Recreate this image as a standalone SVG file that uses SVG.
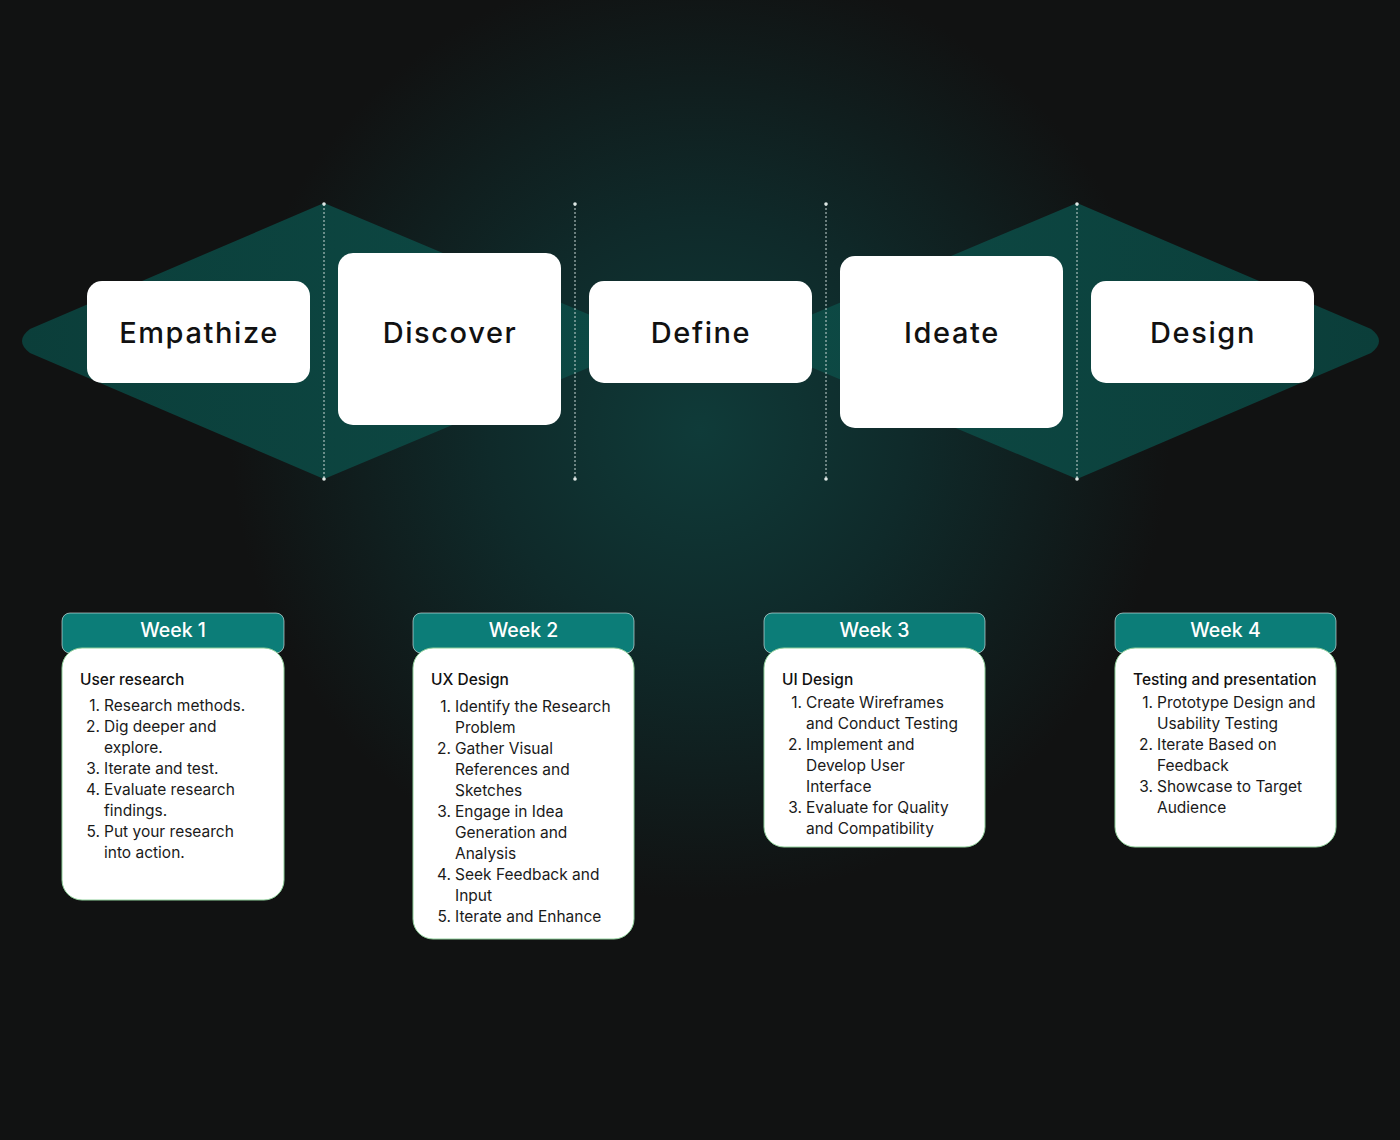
<svg xmlns="http://www.w3.org/2000/svg" width="1400" height="1140" viewBox="0 0 1400 1140">
  <defs>
    <radialGradient id="glow" cx="700" cy="430" r="470" gradientUnits="userSpaceOnUse">
      <stop offset="0" stop-color="#0f3b39"/>
      <stop offset="0.45" stop-color="#0f2a2a"/>
      <stop offset="1" stop-color="#111212"/>
    </radialGradient>
    <linearGradient id="dia" x1="0" y1="0" x2="1" y2="0">
      <stop offset="0" stop-color="#0b3e3a"/>
      <stop offset="1" stop-color="#0d4a45"/>
    </linearGradient>
    <linearGradient id="diaR" x1="1" y1="0" x2="0" y2="0">
      <stop offset="0" stop-color="#0b3e3a"/>
      <stop offset="1" stop-color="#0d4a45"/>
    </linearGradient>
    <style>
      .box { fill: #ffffff; }
      .stage { font-family: Inter, "Liberation Sans", sans-serif; font-size: 29px; font-weight: 500; fill: #111111; text-anchor: middle; letter-spacing: 1.6px; }
      .hdr { fill: #0c7d78; stroke: #e6f2f1; stroke-width: 0.6; }
      .card { fill: #ffffff; stroke: #8fcf9a; stroke-width: 1; }
      .wk { font-family: Inter, "Liberation Sans", sans-serif; font-size: 19.5px; font-weight: 500; fill: #ffffff; text-anchor: middle; }
      .ttl { font-family: Inter, "Liberation Sans", sans-serif; font-size: 15.5px; font-weight: 500; fill: #111111; }
      .li { font-family: Inter, "Liberation Sans", sans-serif; font-size: 15.5px; fill: #1a1a1a; }
      .num { font-family: Inter, "Liberation Sans", sans-serif; font-size: 15.5px; fill: #1a1a1a; text-anchor: end; }
      .vline { stroke: #c9d6d4; stroke-width: 1; stroke-dasharray: 2 2; }
      .dot { fill: #dfe8e6; }
    </style>
  </defs>

  <rect x="0" y="0" width="1400" height="1140" fill="#111212"/>
  <rect x="0" y="0" width="1400" height="1140" fill="url(#glow)"/>

  <g id="diamonds">
    <path d="M 324 203 L 652 341 L 324 479 L 30 353 Q 14 341 30 329 Z" fill="url(#dia)"/>
    <path d="M 1077 203 L 749 341 L 1077 479 L 1371 353 Q 1387 341 1371 329 Z" fill="url(#diaR)"/>
  </g>

  <g id="connectors">
    <line class="vline" x1="324" y1="204" x2="324" y2="478"/>
    <line class="vline" x1="575" y1="204" x2="575" y2="478"/>
    <line class="vline" x1="826" y1="204" x2="826" y2="478"/>
    <line class="vline" x1="1077" y1="204" x2="1077" y2="478"/>
    <circle class="dot" cx="324" cy="204" r="1.8"/>
    <circle class="dot" cx="324" cy="479" r="1.8"/>
    <circle class="dot" cx="575" cy="204" r="1.8"/>
    <circle class="dot" cx="575" cy="479" r="1.8"/>
    <circle class="dot" cx="826" cy="204" r="1.8"/>
    <circle class="dot" cx="826" cy="479" r="1.8"/>
    <circle class="dot" cx="1077" cy="204" r="1.8"/>
    <circle class="dot" cx="1077" cy="479" r="1.8"/>
  </g>

  <g id="node-empathize">
    <rect class="box" x="87" y="281" width="223" height="102" rx="15"/>
    <text class="stage" x="199" y="343">Empathize</text>
  </g>
  <g id="node-discover">
    <rect class="box" x="338" y="253" width="223" height="172" rx="15"/>
    <text class="stage" x="450" y="343">Discover</text>
  </g>
  <g id="node-define">
    <rect class="box" x="589" y="281" width="223" height="102" rx="15"/>
    <text class="stage" x="701" y="343">Define</text>
  </g>
  <g id="node-ideate">
    <rect class="box" x="840" y="256" width="223" height="172" rx="15"/>
    <text class="stage" x="952" y="343">Ideate</text>
  </g>
  <g id="node-design">
    <rect class="box" x="1091" y="281" width="223" height="102" rx="15"/>
    <text class="stage" x="1203" y="343">Design</text>
  </g>

  <g id="week1">
    <rect class="hdr" x="62" y="613" width="222" height="40" rx="8"/>
    <rect class="card" x="62" y="648" width="222" height="252" rx="20"/>
    <text class="wk" x="173" y="637">Week 1</text>
    <text class="ttl" x="80" y="685">User research</text>
    <text class="num" x="100" y="711">1.</text><text class="li" x="104" y="711">Research methods.</text>
    <text class="num" x="100" y="732">2.</text><text class="li" x="104" y="732">Dig deeper and</text>
    <text class="li" x="104" y="753">explore.</text>
    <text class="num" x="100" y="774">3.</text><text class="li" x="104" y="774">Iterate and test.</text>
    <text class="num" x="100" y="795">4.</text><text class="li" x="104" y="795">Evaluate research</text>
    <text class="li" x="104" y="816">findings.</text>
    <text class="num" x="100" y="837">5.</text><text class="li" x="104" y="837">Put your research</text>
    <text class="li" x="104" y="858">into action.</text>
  </g>

  <g id="week2">
    <rect class="hdr" x="413" y="613" width="221" height="40" rx="8"/>
    <rect class="card" x="413" y="648" width="221" height="291" rx="20"/>
    <text class="wk" x="523.5" y="637">Week 2</text>
    <text class="ttl" x="431" y="685">UX Design</text>
    <text class="num" x="451" y="712">1.</text><text class="li" x="455" y="712">Identify the Research</text>
    <text class="li" x="455" y="733">Problem</text>
    <text class="num" x="451" y="754">2.</text><text class="li" x="455" y="754">Gather Visual</text>
    <text class="li" x="455" y="775">References and</text>
    <text class="li" x="455" y="796">Sketches</text>
    <text class="num" x="451" y="817">3.</text><text class="li" x="455" y="817">Engage in Idea</text>
    <text class="li" x="455" y="838">Generation and</text>
    <text class="li" x="455" y="859">Analysis</text>
    <text class="num" x="451" y="880">4.</text><text class="li" x="455" y="880">Seek Feedback and</text>
    <text class="li" x="455" y="901">Input</text>
    <text class="num" x="451" y="922">5.</text><text class="li" x="455" y="922">Iterate and Enhance</text>
  </g>

  <g id="week3">
    <rect class="hdr" x="764" y="613" width="221" height="40" rx="8"/>
    <rect class="card" x="764" y="648" width="221" height="199" rx="20"/>
    <text class="wk" x="874.5" y="637">Week 3</text>
    <text class="ttl" x="782" y="685">UI Design</text>
    <text class="num" x="802" y="708">1.</text><text class="li" x="806" y="708">Create Wireframes</text>
    <text class="li" x="806" y="729">and Conduct Testing</text>
    <text class="num" x="802" y="750">2.</text><text class="li" x="806" y="750">Implement and</text>
    <text class="li" x="806" y="771">Develop User</text>
    <text class="li" x="806" y="792">Interface</text>
    <text class="num" x="802" y="813">3.</text><text class="li" x="806" y="813">Evaluate for Quality</text>
    <text class="li" x="806" y="834">and Compatibility</text>
  </g>

  <g id="week4">
    <rect class="hdr" x="1115" y="613" width="221" height="40" rx="8"/>
    <rect class="card" x="1115" y="648" width="221" height="199" rx="20"/>
    <text class="wk" x="1225.5" y="637">Week 4</text>
    <text class="ttl" x="1133" y="685">Testing and presentation</text>
    <text class="num" x="1153" y="708">1.</text><text class="li" x="1157" y="708">Prototype Design and</text>
    <text class="li" x="1157" y="729">Usability Testing</text>
    <text class="num" x="1153" y="750">2.</text><text class="li" x="1157" y="750">Iterate Based on</text>
    <text class="li" x="1157" y="771">Feedback</text>
    <text class="num" x="1153" y="792">3.</text><text class="li" x="1157" y="792">Showcase to Target</text>
    <text class="li" x="1157" y="813">Audience</text>
  </g>
</svg>
